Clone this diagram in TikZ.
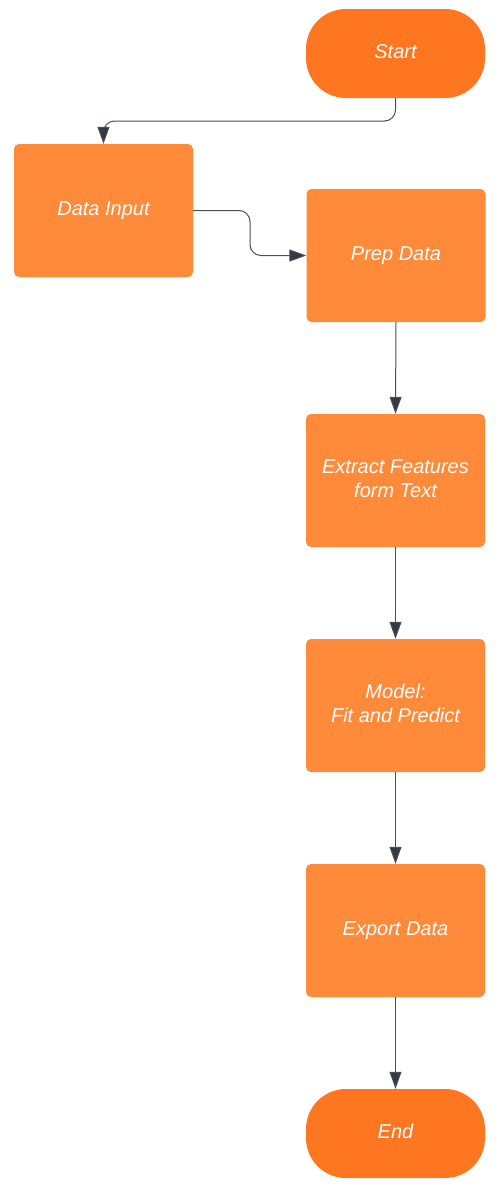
\documentclass[tikz,border=0pt]{standalone}
\usepackage{fontspec}
\setmainfont{Liberation Sans}
\usetikzlibrary{arrows.meta}
\definecolor{termc}{HTML}{FE761F}
\definecolor{boxc}{HTML}{FE8A3A}
\definecolor{linec}{HTML}{4A4F57}
\definecolor{tipc}{HTML}{333A44}
\tikzset{
  base/.style={fill, draw=none, text=white, minimum width=179pt, align=center,
    font=\fontsize{20}{24}\selectfont\itshape, inner sep=0pt,
    text height=14pt, text depth=4pt},
  twolines/.style={text height=38pt},
  term/.style={base, fill=termc, minimum height=89pt, rounded corners=40pt},
  procbox/.style={base, fill=boxc, minimum height=133pt, rounded corners=5pt},
  conn/.style={draw=linec, line width=1pt, rounded corners=11pt,
    -{Triangle[width=12pt,length=17pt,fill=tipc]}},
}
\begin{document}
\begin{tikzpicture}[x=1pt,y=-1pt]
\useasboundingbox (0,0) rectangle (502,1192);
\node[term] (start) at (395.5,53.5) {Start};
\node[procbox] (input) at (103.5,210.5) {Data Input};
\node[procbox] (prep) at (396,255.5) {Prep Data};
\node[procbox, twolines] (extract) at (395.5,480.5) {Extract Features\\form Text};
\node[procbox, twolines] (model) at (395.5,705.5) {Model:\\Fit and Predict};
\node[procbox] (export) at (395.5,930.5) {Export Data};
\node[term] (end) at (395.5,1133.5) {End};
\draw[conn] (start.south) |- (103.5,121) -- (input.north);
\draw[conn] (input.east) -- (250,210.5) |- (prep.west);
\draw[conn] (prep.south) -- (extract.north);
\draw[conn] (extract.south) -- (model.north);
\draw[conn] (model.south) -- (export.north);
\draw[conn] (export.south) -- (end.north);
\end{tikzpicture}
\end{document}
